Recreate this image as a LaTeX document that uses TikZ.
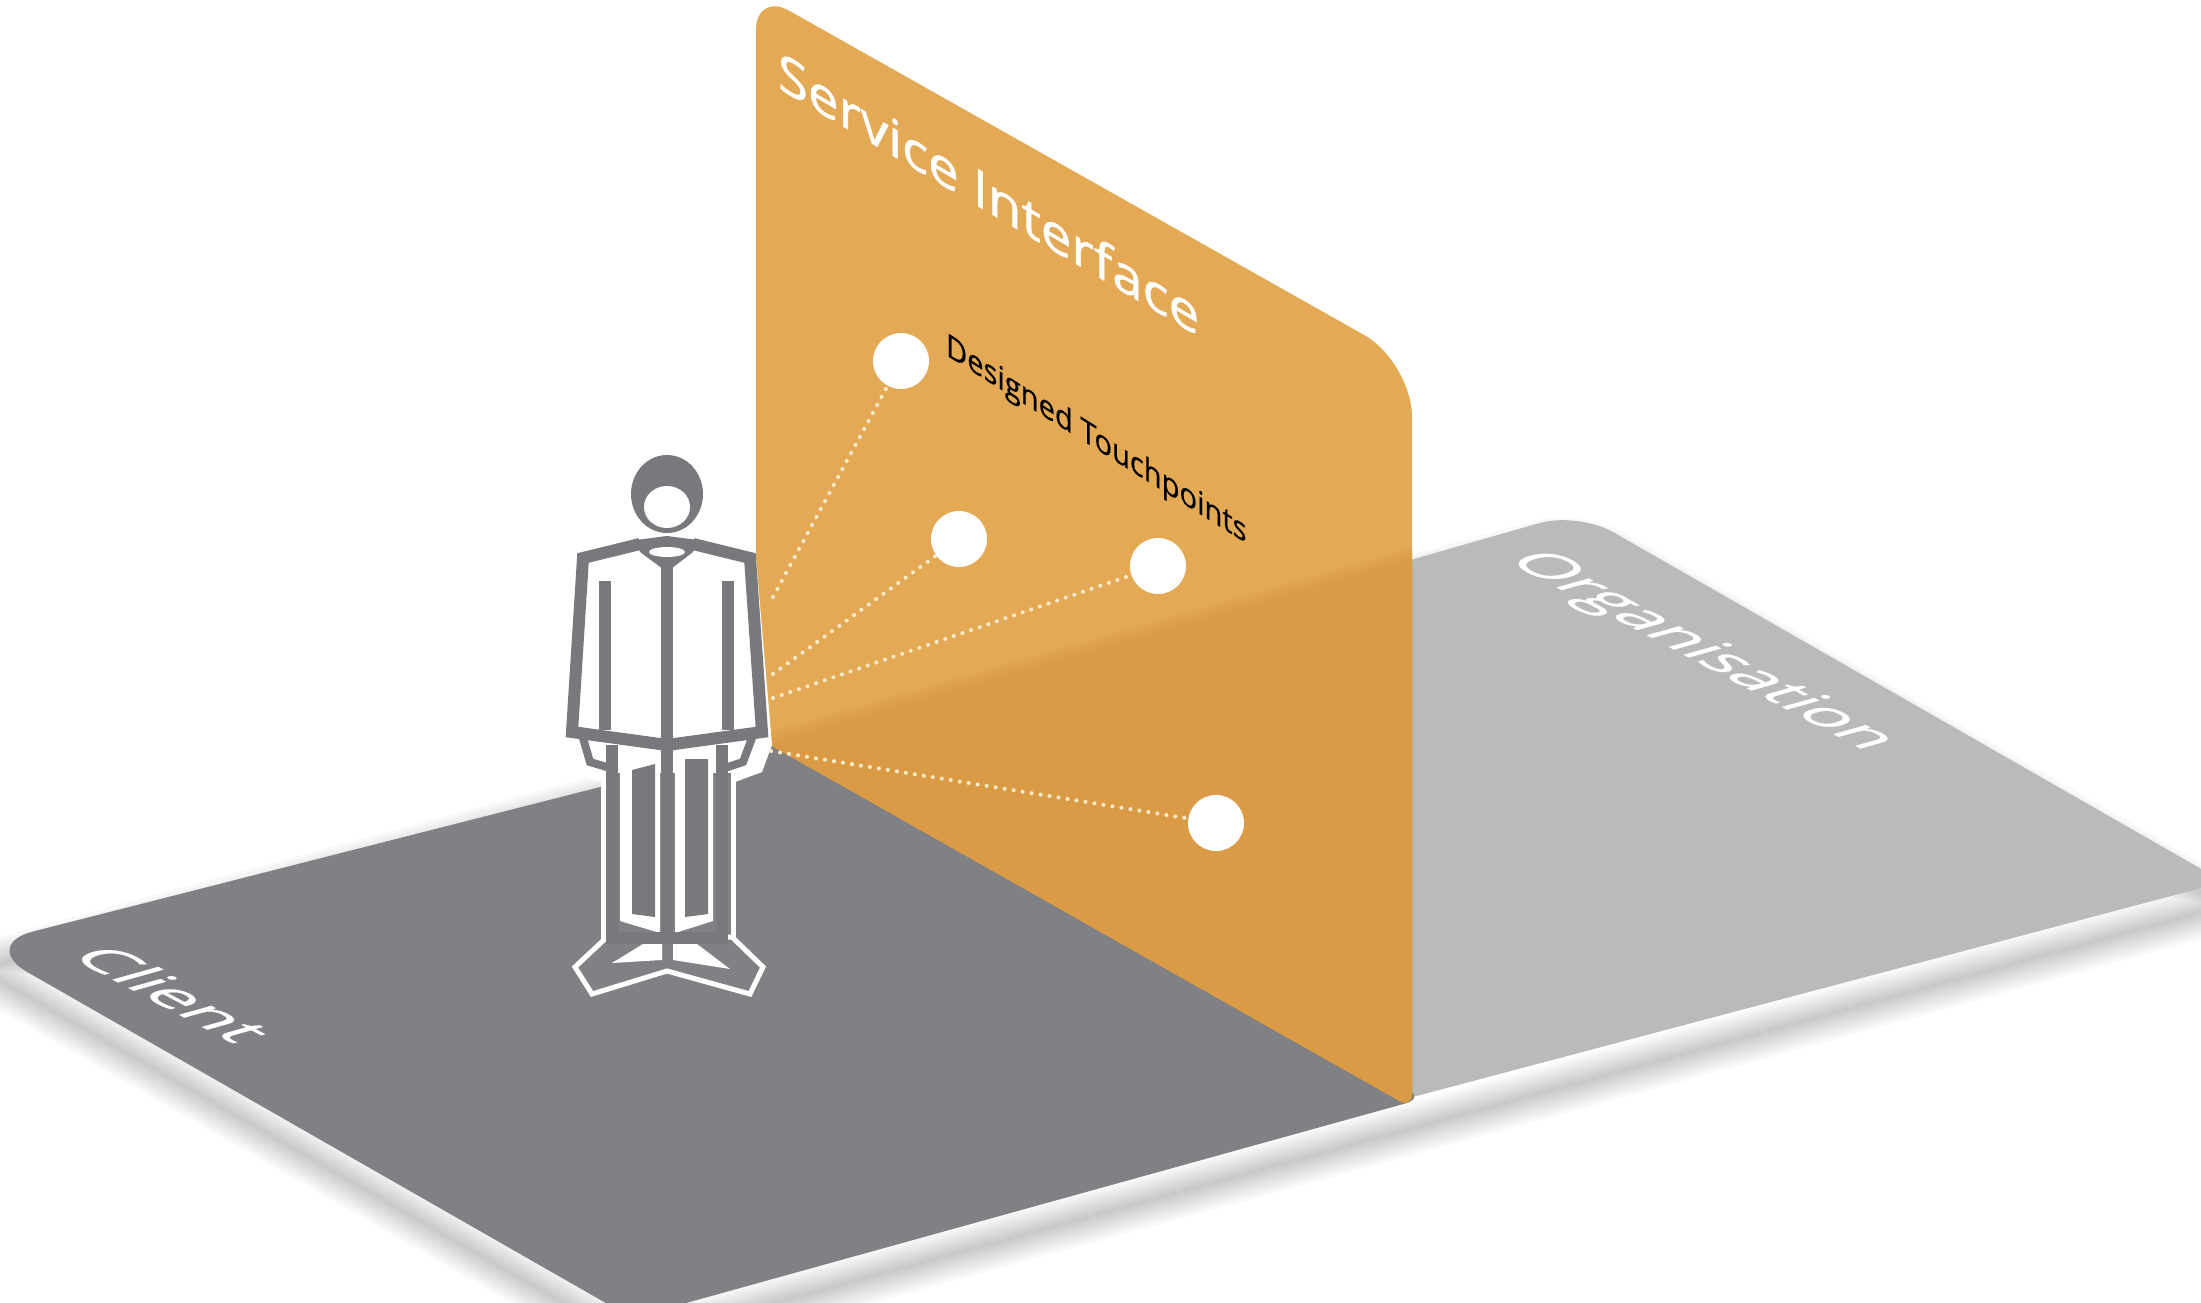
\documentclass[tikz,border=0pt]{standalone}
\usepackage{fontspec}
\setmainfont{Open Sans}
\definecolor{clientgrey}{HTML}{7F8184}
\definecolor{orggrey}{HTML}{B8BABC}
\definecolor{panelorange}{HTML}{E3A955}
\definecolor{paneldeep}{HTML}{DB9A45}
\definecolor{figgrey}{HTML}{77797C}
\definecolor{dotcream}{HTML}{FFEBC8}
\tikzset{
  x=1pt,y=-1pt,
  spot/.style={circle,fill=white,draw=none,minimum size=56pt,inner sep=0pt},
  dotline/.style={draw=dotcream,line width=4pt,line cap=round,dash pattern=on 0.1pt off 9pt},
  figline/.style={draw=figgrey,line width=12pt,line join=miter},
  flat/.style={inner sep=0pt,outer sep=0pt,anchor=base west,transform shape},
}
\newcommand{\clientshape}{(769,744) [rounded corners=55pt] -- (-20,945) [rounded corners=30pt] -- (632,1318) [rounded corners=20pt] -- (1425,1098) [sharp corners] -- cycle}
\newcommand{\orgshape}{(769,744) [rounded corners=40pt] -- (1578,512) [rounded corners=30pt] -- (2224,882) [rounded corners=10pt] -- (1390,1103) [sharp corners] -- cycle}
\newcommand{\groundshape}{[rounded corners=55pt] (-20,945) [rounded corners=30pt] -- (632,1318) [sharp corners] -- (2224,882) [rounded corners=40pt] -- (1578,512) [sharp corners] -- cycle}
\newcommand{\panelshape}{[rounded corners=38pt] (756,-8) [rounded corners=55pt] -- (1412,362) [rounded corners=14pt] -- (1412,1108) [sharp corners] -- (756,737) [rounded corners=38pt] -- cycle}
\begin{document}
\begin{tikzpicture}
\useasboundingbox (0,0) rectangle (2201,1303);
\clip (0,0) rectangle (2201,1303);
\fill[white] (0,0) rectangle (2201,1303);
% soft shadow under both ground planes
\foreach \w in {4,10,16,22,28,34,40,46,52}{
  \draw[black,opacity=0.022,line width=\w pt,line join=round,shift={(0,24)}] \groundshape;
}
\fill[orggrey] \orgshape;
\fill[clientgrey] \clientshape;
% interface panel, deeper where the organisation plane lies behind it
\fill[panelorange] \panelshape;
\begin{scope}
  \clip \panelshape;
  \foreach \d in {-12,-9,-6,-3,0,3,6,9,12}{
    \fill[paneldeep,opacity=0.25,shift={(0,\d)}] (769,744) -- (1578,512) -- (1578,1200) -- (769,1200) -- cycle;
  }
\end{scope}
% figure halo
\fill[white] (572,552) -- (650,533) -- (755,546) -- (772,745) -- (762,772) -- (735,782) -- (735,946) -- (601,946) -- (601,782) -- (578,776) -- (562,738) -- cycle;
% legs
\fill[clientgrey,draw=white,line width=5pt] (603,770) -- (733,770) -- (733,944) -- (603,944) -- cycle;
\fill[white] (620,745) -- (660,757) -- (660,933) -- (620,921) -- cycle;
\fill[white] (675,757) -- (713,745) -- (713,921) -- (675,933) -- cycle;
\fill[figgrey] (632,770) -- (655,764) -- (655,917) -- (632,914) -- cycle;
\fill[figgrey] (685,759) -- (708,759) -- (708,914) -- (685,917) -- cycle;
% feet
\fill[clientgrey,draw=white,line width=5pt,line join=miter] (607,937) -- (575,967) -- (592,994) -- (667,971) -- (750,994) -- (763,967) -- (732,937) -- cycle;
\fill[white] (612,963) -- (643,944) -- (662,944) -- (662,960) -- cycle;
\fill[white] (673,960) -- (673,944) -- (697,944) -- (730,969) -- cycle;
% body outlines
\draw[figline] (640,544) -- (583,558) -- (572,732) -- (667,745) -- (762,732) -- (750,558) -- (693,544);
\draw[figline] (612,745) -- (612,938) -- (722,938) -- (722,745);
\draw[figline] (667,565) -- (667,940);
\draw[figline] (605,581) -- (605,730);
\draw[figline] (728,581) -- (728,730);
\draw[figline,line width=8pt] (583,738) -- (590,762) -- (610,768);
\draw[figline,line width=8pt] (752,738) -- (743,762) -- (725,768);
\fill[figgrey] (636,540) -- (667,536) -- (698,540) -- (693,552) -- (667,572) -- (640,552) -- cycle;
\fill[white] (667,552) ellipse [x radius=18pt,y radius=5pt];
% head
\fill[figgrey] (667,494) ellipse [x radius=36pt,y radius=39pt];
\fill[white] (667,507) ellipse [x radius=23pt,y radius=21pt];
% touchpoints
\node[spot] (t1) at (901,361) {};
\node[spot] (t2) at (959,539) {};
\node[spot] (t3) at (1158,566) {};
\node[spot] (t4) at (1216,823) {};
\coordinate (s1) at (773,597);
\coordinate (s2) at (773,674);
\coordinate (s3) at (773,698);
\coordinate (s4) at (771,751);
\foreach \n in {1,2,3,4}{\draw[dotline] (s\n) -- (t\n);}
% labels
\newfontfamily\markfont[FakeBold=1]{Open Sans}
\newfontfamily\softfont[FakeBold=0.5]{Open Sans}
\node[flat,text=white,font=\fontsize{52}{52}\markfont,cm={1.05,-0.62,0,1,(0,0)}] (service) at (778,88) {Service Interface};
\node[flat,text=black,font=\fontsize{32}{32}\softfont,cm={0.91,-0.57,0,1,(0,0)}] (touch) at (946,355) {Designed Touchpoints};
\node[flat,text=white,font=\fontsize{60}{60}\softfont,cm={1.04,-0.55,1.0,0.28,(0,0)}] (client) at (68,956) {Client};
\node[flat,text=white,font=\fontsize{60}{60}\softfont,cm={1.0,-0.53,1.0,0.28,(0,0)}] (org) at (1505,560) {Organisation};
\end{tikzpicture}
\end{document}
